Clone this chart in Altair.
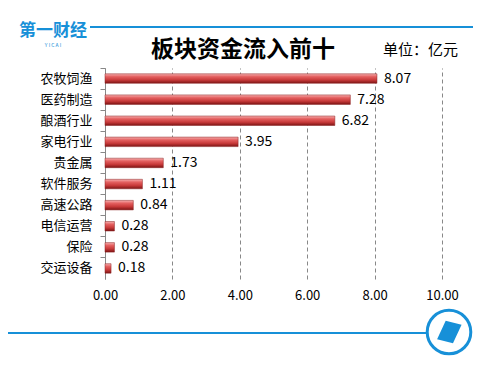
import altair as alt
import pandas as pd

categories = ["农牧饲渔", "医药制造", "酿酒行业", "家电行业", "贵金属", "软件服务", "高速公路", "电信运营", "保险", "交运设备"]
values = [8.07, 7.28, 6.82, 3.95, 1.73, 1.11, 0.84, 0.28, 0.28, 0.18]
x_ticks = [0, 2, 4, 6, 8, 10]

FONT = "Noto Sans CJK SC"
BLUE = "#1790d8"

df = pd.DataFrame({"cat": categories, "val": values})
df["lbl"] = [f"{v:.2f}" for v in values]
one = pd.DataFrame({"a": [0]})

grad = alt.Gradient(
    gradient="linear",
    stops=[
        alt.GradientStop(color="#f6b0b0", offset=0),
        alt.GradientStop(color="#e46060", offset=0.3),
        alt.GradientStop(color="#c83a3a", offset=0.65),
        alt.GradientStop(color="#7c1414", offset=1),
    ],
    x1=0, x2=0, y1=0, y2=1,
)

y_enc = alt.Y("cat:N", sort=categories, title=None,
              scale=alt.Scale(paddingInner=0, paddingOuter=0),
              axis=alt.Axis(labelFont=FONT, labelFontSize=13, labelColor="#000",
                            domainColor="#888", tickColor="#888", tickSize=5,
                            bandPosition=0, labelPadding=8, grid=False))
x_enc = alt.X("val:Q", title=None,
              scale=alt.Scale(domain=[0, 10], nice=False),
              axis=alt.Axis(values=x_ticks, format=".2f", labelFont=FONT, labelFontSize=13,
                            labelColor="#000", domain=False, ticks=False, labelPadding=10,
                            labelFlush=False,
                            grid=True, gridColor="#888", gridDash=[4, 3], gridWidth=1))

bars = alt.Chart(df).mark_bar(size=9.5, color=grad, stroke="#8a2020", strokeWidth=0.5).encode(
    x=x_enc, y=y_enc)
labels = alt.Chart(df).mark_text(align="left", dx=7, font=FONT, fontSize=14, color="#000").encode(
    x="val:Q", y=alt.Y("cat:N", sort=categories), text="lbl:N")

def T(text, x, y, size, bold=False, color="#000", align="center"):
    kw = dict(text=text, font=FONT, fontSize=size, color=color, align=align, baseline="middle",
              fontWeight="bold" if bold else "normal")
    return alt.Chart(one).mark_text(**kw).encode(x=alt.value(x), y=alt.value(y))

title = T("板块资金流入前十", 138, -18, 23, bold=True)
unit = T("单位：亿元", 278, -18, 15, align="left")
logo = T("第一财经", -52, -37, 17, bold=True, color=BLUE)
yicai = T("Y    I    C    A    I", -52, -23, 5, color=BLUE)

top_line = alt.Chart(one).mark_rule(color=BLUE, strokeWidth=2).encode(
    x=alt.value(-15), x2=alt.value(368), y=alt.value(-41))
bot_line = alt.Chart(one).mark_rule(color=BLUE, strokeWidth=2).encode(
    x=alt.value(-105), x2=alt.value(322), y=alt.value(265))
circle = alt.Chart(one).mark_point(shape="circle", size=1900, filled=True, fill="white",
                                   stroke=BLUE, strokeWidth=3, opacity=1).encode(
    x=alt.value(344), y=alt.value(264))
rhomb = alt.Chart(one).mark_point(
    shape="M -0.25 -0.85 L 0.95 -0.55 L 0.3 0.85 L -0.9 0.55 Z",
    size=700, filled=True, fill=BLUE, opacity=1, strokeWidth=0).encode(
    x=alt.value(344), y=alt.value(264))

chart = alt.layer(bars, labels, title, unit, logo, yicai, top_line, bot_line, circle, rhomb).properties(
    width=337, height=211,
    autosize=alt.AutoSizeParams(type="none"),
    padding={"left": 97, "top": 60, "right": 50, "bottom": 84},
    background="white",
).configure_view(stroke=None)

chart.save("out.html", embed_options={"renderer": "svg", "actions": False})
